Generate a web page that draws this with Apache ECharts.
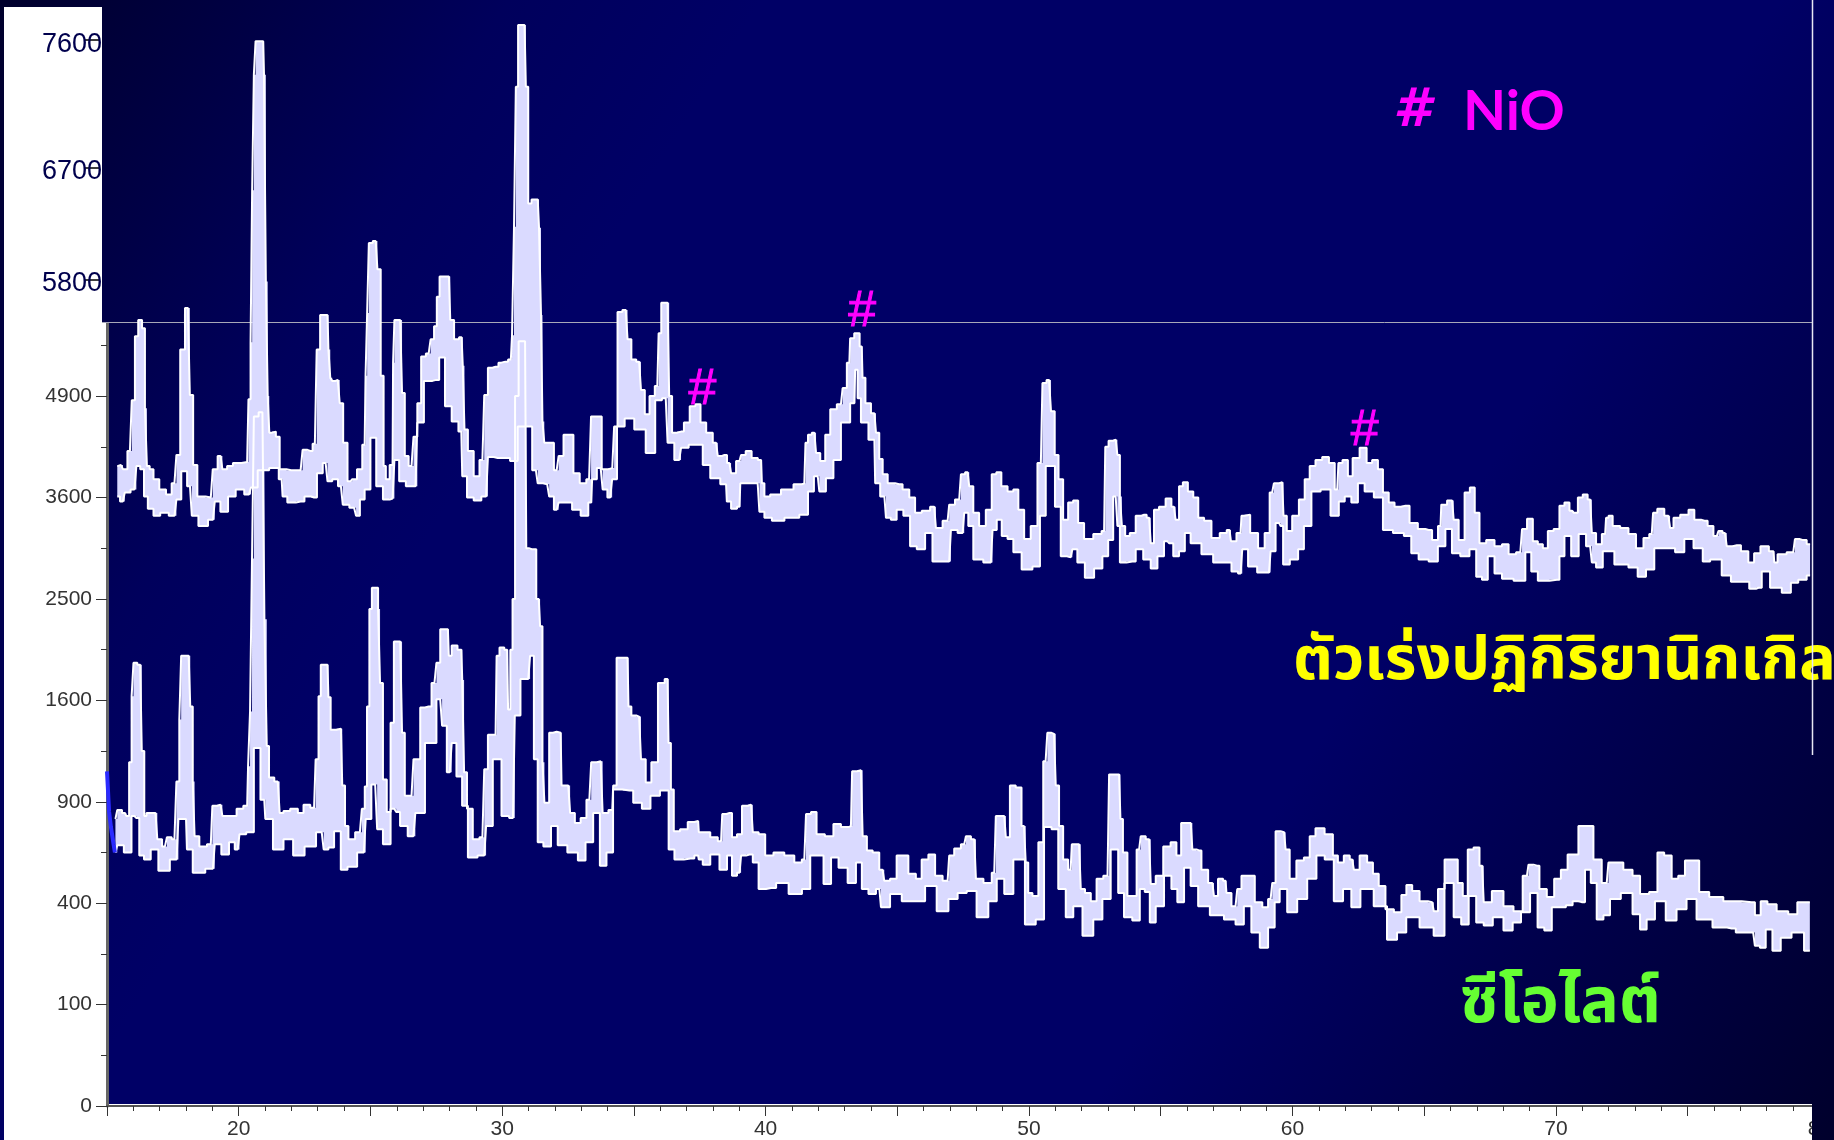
<!DOCTYPE html>
<html>
<head>
<meta charset="utf-8">
<title>XRD</title>
<script src="https://cdn.jsdelivr.net/npm/echarts@6/dist/echarts.min.js"></script>
<style>
html, body { margin: 0; padding: 0; background: #000066; }
#chart { width: 1834px; height: 1140px; }
</style>
</head>
<body>
<div id="chart"></div>
<script>
"use strict";
// intensity is stored on the instrument's square root scale, so 70 reads as 4900
const nickelUpper = [[15.39,63.1],[15.53,63.2],[15.68,62.8],[15.87,64.6],[16.01,69.6],[16.11,75.9],[16.26,77.5],[16.40,76.7],[16.48,68.8],[16.55,63.1],[16.69,62.8],[16.84,61.8],[17.13,60.8],[17.35,60.3],[17.56,61.4],[17.71,64.2],[17.85,74.6],[18.07,78.7],[18.22,70.1],[18.32,63.2],[18.54,60.1],[18.94,60],[19.09,62.8],[19.31,64.1],[19.45,62.8],[19.67,63.1],[19.89,63.4],[20.32,63.5],[20.42,69.7],[20.48,75.3],[20.54,90.3],[20.61,101.7],[20.67,105],[20.93,105],[20.99,101.7],[21.07,81.3],[21.13,70],[21.19,66.4],[21.34,66.5],[21.48,66],[21.63,62.8],[21.99,62.7],[22.35,62.7],[22.5,64.7],[22.72,64.6],[22.89,65.3],[23.03,74.6],[23.15,78],[23.37,78],[23.44,74.6],[23.51,71.8],[23.59,71.5],[23.76,71.6],[23.91,69.3],[24.02,65.4],[24.24,61.6],[24.38,61.8],[24.6,62.8],[24.78,65.2],[24.85,72],[24.9,78.2],[24.98,85.1],[25.2,85.3],[25.33,82.5],[25.45,72],[25.55,63.1],[25.62,61.8],[25.84,63.2],[25.88,73.3],[25.94,77.5],[26.13,77.5],[26.27,70.3],[26.34,64.1],[26.56,63.1],[26.71,66],[26.85,69.3],[27,73.9],[27.21,74.2],[27.36,75.6],[27.47,76.9],[27.57,79.8],[27.68,81.8],[27.98,81.8],[28.08,77.5],[28.27,75.6],[28.46,75.8],[28.55,73],[28.59,66.7],[28.81,64.6],[29.03,62.1],[29.25,63.7],[29.39,70.1],[29.53,72.8],[29.75,72.9],[29.97,73.3],[30.12,73.4],[30.33,73.6],[30.42,76],[30.48,86.7],[30.56,100.5],[30.65,106.6],[30.85,106.6],[30.95,100.5],[31.03,89],[31.2,89.4],[31.35,89.4],[31.45,86.6],[31.5,78],[31.56,67.5],[31.64,65.4],[31.86,65.4],[32.07,62.7],[32.22,64.1],[32.44,66.2],[32.61,66.2],[32.8,62.4],[33.09,61.4],[33.3,61.8],[33.45,68],[33.67,68],[33.89,62.8],[34.18,62.9],[34.32,67],[34.44,78.3],[34.69,78.5],[34.83,75.6],[34.98,73.6],[35.2,73.4],[35.34,70.6],[35.49,68.2],[35.7,70],[35.89,71],[35.99,76.2],[36.09,79.2],[36.28,79.2],[36.4,70],[36.5,66.4],[36.79,66.5],[37.01,67.4],[37.23,69],[37.44,69.2],[37.62,67.4],[37.87,66.4],[38.12,65.4],[38.25,64.1],[38.44,64.2],[38.63,63.4],[38.75,62.4],[39.01,63.6],[39.13,64.2],[39.36,64.6],[39.58,63.9],[39.83,63.7],[39.89,61.4],[40.02,60.1],[40.33,60.3],[40.84,60.8],[41.28,61.3],[41.47,61.4],[41.56,65.4],[41.66,66.2],[41.85,66.4],[41.98,64.4],[42.17,63.6],[42.36,66.2],[42.55,68.7],[42.86,69.2],[42.99,70.8],[43.18,73.3],[43.24,75.7],[43.49,76.2],[43.65,74.9],[43.71,71.8],[43.87,69.3],[44.13,68.3],[44.25,66.4],[44.38,63.8],[44.51,62.3],[44.76,61.4],[45.07,61.3],[45.33,60.8],[45.58,60],[45.77,58.5],[46.09,58.7],[46.4,59.1],[46.53,57],[46.91,57.7],[47.03,59.3],[47.35,59.8],[47.48,62.3],[47.67,62.5],[47.79,61.1],[47.98,58.5],[48.23,57.2],[48.49,58.8],[48.68,62.3],[48.84,62.5],[49.06,61.1],[49.31,60.6],[49.5,60.8],[49.69,58.8],[49.94,55.9],[50.19,57.2],[50.45,63.4],[50.57,71.3],[50.76,71.6],[50.91,68.5],[51.04,64.2],[51.2,61.8],[51.39,57.8],[51.58,59.5],[51.77,59.7],[51.96,57.5],[52.22,55.9],[52.66,56.4],[52.85,56.7],[52.94,65],[53.1,65.6],[53.29,65.7],[53.42,64.2],[53.48,60.1],[53.57,57.2],[53.73,56.2],[53.92,56.5],[54.18,58.2],[54.37,58.3],[54.56,58],[54.68,55.5],[54.81,58.8],[55.06,59.1],[55.31,59.9],[55.5,59.1],[55.63,57.8],[55.76,61.1],[55.92,61.5],[56.14,60.6],[56.33,60],[56.52,58],[56.77,57.7],[57.08,56],[57.4,56.5],[57.61,56.8],[57.72,55.7],[58.03,56.5],[58.1,58.2],[58.25,58.3],[58.54,56.5],[58.85,55],[59.04,56.5],[59.23,60.5],[59.36,61.4],[59.61,61.5],[59.71,58.2],[59.86,56.7],[60.12,58.2],[60.37,59.8],[60.56,61.8],[60.75,63.1],[61,63.7],[61.26,64],[61.51,63.4],[61.7,60.8],[61.79,63.4],[62.01,63.7],[62.2,62.1],[62.37,63.9],[62.73,64.9],[62.9,63.4],[63.15,63.7],[63.34,62.8],[63.53,60.5],[63.78,59.5],[63.97,59.1],[64.29,59.2],[64.6,57.5],[64.92,56.9],[65.17,56.8],[65.43,55.8],[65.62,57.2],[65.68,59.3],[66.06,59.7],[66.18,57.8],[66.44,55.8],[66.63,60.5],[66.84,61],[67,58.5],[67.2,55.5],[67.51,55.8],[67.83,55.2],[68.08,55.4],[68.33,54.4],[68.65,54.6],[68.78,56.9],[69.03,57.9],[69.22,55.7],[69.41,55.4],[69.6,55],[69.79,56.7],[70.04,56.9],[70.23,59.2],[70.42,59.5],[70.61,58.7],[70.74,58.5],[70.93,60],[71.11,60.3],[71.3,59.8],[71.43,56.5],[71.62,55.4],[71.87,56.4],[71.94,58],[72.06,58.2],[72.25,57.2],[72.63,57],[72.88,56.4],[73.2,55],[73.45,56],[73.64,56.4],[73.74,58.5],[73.96,58.9],[74.27,58.2],[74.4,57],[74.53,58],[74.91,58.3],[75.16,58.8],[75.35,57.8],[75.67,57.7],[75.85,57.2],[76.11,56.2],[76.23,56.7],[76.42,56.5],[76.55,55.2],[76.87,55.3],[77.18,54.7],[77.43,53.6],[77.62,54.5],[77.91,55.2],[78.26,54.7],[78.32,53.6],[78.51,54.4],[79.01,54.6],[79.14,55.9],[79.39,55.8],[79.65,55.4]];
const nickelLower = [[15.39,60.1],[15.6,59.6],[15.75,60.5],[16.04,60.8],[16.19,63.1],[16.33,62.8],[16.48,60.1],[16.62,58.9],[16.91,58.2],[17.13,58.5],[17.56,58.2],[17.71,59.8],[17.93,62.6],[18.15,61.1],[18.29,58.2],[18.65,57.2],[19.02,57.8],[19.16,59.6],[19.45,58.6],[19.74,60.1],[20.03,60.8],[20.39,60.3],[20.54,61],[20.9,62.7],[21.41,62.9],[21.63,61.8],[21.7,60.1],[21.99,59.5],[22.35,59.6],[22.64,60.1],[22.86,60],[23.08,62.4],[23.3,63.4],[23.44,61.6],[23.66,61.8],[23.88,61.1],[24.02,59.3],[24.38,59],[24.53,58.2],[24.67,59.8],[24.89,60.8],[25.11,65.9],[25.33,61.1],[25.62,59.8],[25.84,59.9],[25.98,63.7],[26.2,61.6],[26.49,61.1],[26.71,61.1],[26.85,67.4],[27.21,71.5],[27.5,71.6],[27.72,73.8],[27.94,69],[28.23,67.5],[28.45,66.5],[28.52,62.1],[28.81,60],[29.03,59.7],[29.39,60.1],[29.53,64],[29.83,63.9],[30.12,63.9],[30.48,63.6],[30.7,67],[31,67],[31.28,62.7],[31.42,61.4],[31.71,61.3],[31.86,60.1],[32.07,58.8],[32.22,59.5],[32.51,59.5],[32.8,58.8],[33.16,58.2],[33.38,59.5],[33.45,61.8],[33.74,62.9],[33.89,60.8],[34.1,60],[34.25,61.8],[34.47,67],[34.83,67.8],[35.2,66.7],[35.7,64.4],[35.92,69.6],[36.21,69.8],[36.35,65.4],[36.72,63.7],[36.86,64.9],[37.3,65.2],[37.49,65.2],[37.74,63.2],[38.06,61.9],[38.5,61.3],[38.56,59.6],[38.82,58.9],[39.01,59.1],[39.07,61.4],[39.7,61.4],[39.83,58.6],[40.08,58],[40.4,57.7],[41.03,58],[41.53,58.3],[41.69,60.6],[41.98,62.1],[42.1,60.6],[42.48,61.9],[42.67,63.7],[43.05,67.4],[43.37,69.3],[43.43,72.6],[43.56,69.8],[43.68,67.4],[44.13,65.7],[44.19,61.4],[44.51,60.1],[44.63,58],[44.88,57.8],[45.07,58.8],[45.39,58.2],[45.58,55.2],[45.9,54.9],[46.21,56.5],[46.46,53.7],[46.97,53.7],[47.1,56.8],[47.48,56.5],[47.6,58.5],[47.79,57.2],[47.98,53.9],[48.55,53.6],[48.68,56.8],[48.87,57.8],[49.06,56.2],[49.31,55.9],[49.5,54.6],[49.94,52.9],[50.32,53.2],[50.51,58.2],[50.76,63.1],[50.89,63.1],[51.08,59.1],[51.33,54.2],[51.58,54.1],[51.71,54.9],[51.96,53.6],[52.28,52.1],[52.66,53],[52.91,54.2],[53.1,55.8],[53.29,60.1],[53.42,57.2],[53.48,53.6],[53.92,53.7],[54.18,54.9],[54.49,53.9],[54.75,53],[55,54.2],[55.25,55.7],[55.38,55.5],[55.57,54.2],[55.82,54.7],[56.01,56.5],[56.26,55.5],[56.83,54.4],[57.15,53.6],[57.53,53.6],[57.84,52.7],[58.03,52.5],[58.16,54.9],[58.47,53.2],[58.85,52.6],[59.11,52.6],[59.23,54.7],[59.49,57.5],[59.61,57.2],[59.68,53.4],[60.12,53.9],[60.31,54.9],[60.56,57.2],[60.88,60.6],[61.26,60.8],[61.63,58.2],[61.89,59.6],[62.08,60.1],[62.39,59.5],[62.58,61.4],[62.9,60.6],[63.28,60],[63.59,56.8],[64.04,56.5],[64.42,56.2],[64.6,54.5],[64.98,53.9],[65.36,53.7],[65.68,55.2],[65.93,56.9],[66.18,54.5],[66.56,54.2],[66.88,54.9],[67.07,52.2],[67.32,51.9],[67.51,54.2],[67.83,52.5],[68.08,52],[68.71,51.8],[68.97,54.6],[69.16,52.7],[69.47,51.8],[70.04,51.9],[70.23,54.2],[70.42,56.2],[70.74,54.2],[70.99,56.4],[71.3,55.2],[71.43,53.6],[71.62,53.1],[71.94,54.7],[72.5,53.4],[73.01,53.1],[73.2,52.2],[73.64,52.9],[73.83,55],[74.27,55],[74.78,54.6],[74.97,55.9],[75.48,55],[75.67,53.7],[76.04,53.9],[76.55,52.3],[76.74,51.7],[77.18,51.7],[77.5,51],[77.69,51.1],[77.94,52.7],[78.32,51.1],[78.83,50.6],[79.01,51.6],[79.39,51.9],[79.65,52.3]];
const zeoliteUpper = [[15.32,28.3],[15.46,29.2],[15.68,28.9],[15.78,28.6],[15.9,33.9],[15.97,40.4],[16.04,43.7],[16.26,43.5],[16.38,35],[16.45,28.6],[16.55,28.9],[16.84,28.9],[16.98,26.3],[17.2,25.6],[17.35,26.5],[17.56,26.3],[17.71,32],[17.78,38.1],[17.85,44.4],[18.1,44.4],[18.22,39.4],[18.29,32],[18.36,26.6],[18.65,25.6],[18.94,25.8],[19.06,29.6],[19.31,29.7],[19.45,28.6],[19.81,28.6],[20.03,29.3],[20.32,29.6],[20.39,33.5],[20.47,38.9],[20.54,54],[20.61,68],[20.9,68.4],[21.05,48],[21.08,35.5],[21.22,32.4],[21.48,32],[21.63,28.9],[21.77,29.1],[22.14,29.3],[22.35,28.9],[22.57,29.7],[22.86,29.4],[22.98,34.2],[23.08,40.4],[23.15,43.5],[23.37,43.5],[23.44,40.3],[23.54,37.1],[23.88,37.2],[23.98,31.6],[24.09,27.6],[24.24,26.3],[24.6,27],[24.75,29.3],[24.82,31.5],[24.92,39.4],[25,49],[25.11,51.1],[25.25,51.1],[25.33,49],[25.4,41.7],[25.55,32.2],[25.69,29],[25.84,37.8],[25.94,45.8],[26.13,45.8],[26.27,36.8],[26.34,30.6],[26.56,30.6],[26.71,34.2],[27.07,39.3],[27.21,39.4],[27.43,41.7],[27.58,43.7],[27.72,47],[27.94,47],[28.01,44.4],[28.16,45.4],[28.45,45],[28.52,42],[28.59,32.9],[28.74,29.3],[29.03,26.3],[29.25,26.5],[29.39,33.2],[29.53,36.6],[29.75,36.6],[29.83,44.4],[29.97,45.2],[30.19,45],[30.26,39.1],[30.36,45],[30.43,50],[30.55,70],[30.7,75.4],[30.87,75.4],[30.96,55],[31.06,54.9],[31.2,54.9],[31.39,50],[31.49,47.3],[31.57,33.9],[31.64,29.9],[31.93,36.8],[32.07,36.9],[32.22,36.8],[32.29,31.6],[32.51,31.6],[32.65,28.9],[32.87,27.9],[33.09,28.4],[33.31,30.2],[33.45,33.9],[33.74,34],[33.89,28.9],[34.18,29.2],[34.25,31.6],[34.44,44.2],[34.76,44.2],[34.83,39.4],[34.98,38.5],[35.2,38.4],[35.34,34.2],[35.56,31.9],[35.77,33.9],[36.06,41.7],[36.28,42.1],[36.35,35.8],[36.46,31.2],[36.57,27.1],[36.94,27.3],[37.15,28],[37.44,28.1],[37.49,27],[37.74,27],[38.06,26.5],[38.31,26.1],[38.4,28.8],[38.63,28.9],[38.82,26.5],[39.01,26.8],[39.2,29.6],[39.45,29.7],[39.58,27],[39.89,26.8],[40.08,24.7],[40.52,25],[40.9,24.7],[41.28,24],[41.47,24.3],[41.6,28.8],[41.85,29],[42.02,26.8],[42.48,26.6],[42.67,27.8],[43.05,27.5],[43.24,27.6],[43.33,33],[43.62,33.1],[43.75,26.6],[43.94,25.2],[44.19,25],[44.44,23.3],[44.57,22.2],[44.88,22.4],[45.07,24.7],[45.26,24.7],[45.58,22.9],[45.83,22.4],[46.02,24.3],[46.34,24.8],[46.53,22.7],[46.91,22.2],[47.03,24.7],[47.29,25.4],[47.54,25.8],[47.67,26.6],[47.92,26.3],[48.05,22.4],[48.49,22],[48.68,23],[48.8,28.6],[49.06,28.6],[49.18,26.5],[49.37,31.6],[49.62,31.4],[49.81,27.6],[49.94,24],[50,21],[50.26,20.7],[50.45,26],[50.63,34],[50.76,36.8],[50.95,36.7],[51.08,31.6],[51.2,27.6],[51.39,24.3],[51.58,23.3],[51.67,25.8],[51.9,25.8],[52.03,21.4],[52.22,21],[52.47,20.2],[52.66,22.4],[52.98,22.7],[53.1,32.7],[53.42,32.7],[53.52,28.3],[53.61,25],[53.86,20.7],[53.99,20.7],[54.18,25.3],[54.3,26.6],[54.56,26.3],[54.68,21.9],[54.94,22.7],[55.25,25.6],[55.5,26],[55.69,24.7],[55.86,27.9],[56.14,27.9],[56.26,25.3],[56.45,25.2],[56.64,23.3],[56.96,22],[57.08,20.7],[57.27,22.4],[57.46,22.2],[57.53,21],[57.84,19.7],[57.97,21.4],[58.16,22.7],[58.41,22.7],[58.73,20.1],[58.98,19.6],[59.17,20.4],[59.3,22],[59.42,27.1],[59.68,27],[59.8,25.3],[59.99,22.4],[60.31,24.2],[60.56,24.5],[60.75,26.6],[61,27.4],[61.44,26.8],[61.63,24.7],[61.82,24],[62.08,24.7],[62.27,24.3],[62.39,23.3],[62.71,24.7],[62.96,24],[63.15,22.9],[63.4,21.7],[63.66,19.4],[64.04,19.1],[64.23,20.8],[64.42,21.8],[64.67,21.2],[64.98,20.2],[65.3,20.1],[65.43,19.2],[65.62,21.4],[65.93,24.3],[66.18,24.3],[66.37,22],[66.56,20.7],[66.75,25.3],[67,25.5],[67.2,23.7],[67.32,20.1],[67.82,21.2],[68.2,19.7],[68.58,19.2],[68.9,22.7],[69.02,23.8],[69.28,23.7],[69.47,21.4],[69.84,20.6],[70.03,22.4],[70.35,23.3],[70.54,24.8],[70.73,24.8],[70.98,27.6],[71.3,27.6],[71.55,24.3],[71.93,22],[72.06,24],[72.37,24],[72.75,23.3],[73.07,22.7],[73.32,20.9],[73.76,21.1],[73.95,25],[74.27,24.7],[74.52,22.4],[74.77,22.7],[75.03,24.2],[75.28,24.2],[75.6,21.1],[76.04,20.6],[76.67,20.2],[77.43,20.1],[77.68,18.8],[77.87,20.2],[78.19,19.9],[78.57,19.2],[79.07,18.9],[79.26,20.1],[79.64,20.1]];
const zeoliteLower = [[15.32,25],[15.46,25.7],[15.82,25],[16.04,28.6],[16.19,28.4],[16.26,24.7],[16.55,24.3],[16.77,25.3],[17.13,23.2],[17.64,24.3],[17.78,28.3],[18,28.3],[18.07,25.3],[18.44,23],[19.02,23.4],[19.16,25.8],[19.52,24.8],[19.74,26],[19.96,25.3],[20.1,26.8],[20.47,27],[20.68,35.3],[20.97,30.2],[21.05,28.3],[21.55,25.3],[21.85,26.3],[22.28,24.7],[22.72,25.6],[23.15,27],[23.3,25.3],[23.51,25.5],[23.73,27.1],[24.02,23.3],[24.24,23.6],[24.75,25],[24.89,28.3],[25.18,31.7],[25.33,27.3],[25.62,25.8],[25.91,29.3],[26.05,29],[26.2,27.6],[26.63,26.6],[26.78,28.9],[27.36,35.8],[27.65,40.1],[27.79,37.5],[28.01,32.9],[28.16,35.8],[28.37,32.5],[28.59,29.6],[28.81,24.5],[29.32,24.7],[29.46,27.6],[29.83,34.2],[30.12,28.6],[30.41,28.4],[30.55,38.5],[30.84,42.1],[30.99,42.1],[31.13,44.4],[31.28,34.2],[31.42,26],[31.71,25.6],[32,27.6],[32.22,25.7],[32.73,25],[33.02,24.2],[33.31,26],[33.6,28.9],[33.82,23.7],[34.1,25],[34.32,31.2],[34.83,31.1],[35.12,29.9],[35.49,29.3],[35.77,30.6],[36.21,31.1],[36.43,25.3],[36.65,24.3],[37.15,24.4],[37.44,24.7],[37.49,24.3],[37.74,23.8],[38.06,24.8],[38.44,23.3],[38.63,24.7],[38.82,22.7],[39.01,23],[39.13,24.7],[39.39,24.8],[39.64,24],[39.83,21.4],[40.21,21.5],[40.59,22],[41.16,20.9],[41.6,21.4],[41.79,24.7],[42.04,24.7],[42.36,21.9],[42.61,24.5],[42.93,23.5],[43.3,22],[43.56,24],[43.75,21.4],[44.06,20.9],[44.32,21.4],[44.44,19.6],[45.01,20.9],[45.33,20.2],[45.9,20.2],[46.21,21.7],[46.78,19.2],[47.1,20.4],[47.48,21],[47.79,21.2],[48.23,18.6],[48.68,20.2],[48.87,22.4],[49.25,20.9],[49.56,24.3],[50.13,17.9],[50.38,18.4],[50.76,27.5],[50.95,27.3],[51.27,21.4],[51.52,18.6],[51.84,19.7],[52.22,16.8],[52.66,18.4],[52.91,20.4],[53.29,25.3],[53.48,21],[53.73,18.6],[54.11,18.3],[54.3,21.4],[54.49,21.1],[54.68,18.1],[54.94,19.7],[55.31,22.7],[55.5,21.4],[55.76,20.1],[56.01,23.5],[56.26,21.7],[56.58,19.7],[57.15,18.8],[57.65,18.4],[58.03,17.9],[58.28,19.7],[58.6,17.1],[58.92,15.6],[59.23,17.6],[59.42,20.1],[59.61,21.4],[59.99,19.1],[60.37,20.4],[60.75,22.4],[61.07,24.7],[61.38,24.3],[61.76,20.2],[62.08,21.4],[62.39,19.6],[62.77,21.4],[63.4,19.7],[63.78,16.4],[64.16,17.1],[64.48,18.6],[65.17,17.6],[65.55,16.8],[65.99,22],[66.25,18.6],[66.56,17.9],[66.82,20.7],[67.13,18.1],[67.39,17.8],[67.82,18.6],[68.2,17.3],[68.52,18.1],[68.83,19.1],[69.21,21],[69.4,17.6],[69.72,17.3],[69.97,19.6],[70.22,19.6],[70.54,19.8],[70.73,20.2],[70.98,20.1],[71.23,23.3],[71.42,22],[71.68,18.4],[71.93,18.8],[72.18,20.4],[72.75,21],[73.07,18.9],[73.32,17.4],[73.57,18.4],[73.95,20.2],[74.39,18.3],[74.77,19.4],[75.15,20.4],[75.53,18.4],[76.36,17.6],[76.67,17.5],[76.99,17.1],[77.49,17.1],[77.62,15.8],[77.87,15.6],[78.06,17.4],[78.38,15.3],[78.69,16.6],[79.2,17.1],[79.64,15.3]];
// the short blue trace where the zeolite scan starts
const scanStart = [[15,33],[15.08,29],[15.15,27.5],[15.25,25.8],[15.3,25]];
const nioPeaks = [[37.6,70.6],[43.67,78.3],[62.74,66.5]];

const yTickRoots = [0, 10, 20, 30, 40, 50, 60, 70];
const yTickLabels = ["0", "100", "400", "900", "1600", "2500", "3600", "4900"];
const yMinorRoots = [5, 15, 25, 35, 45, 55, 65, 75];
const pastedRoots = [81.5, 92.5, 105.1];
// the pasted text sits a little under its own tick
const pastedLabelRoots = [81.1, 92.1, 104.7];
const pastedLabels = ["5800", "6700", "7600"];

const backdropStops = [
    {offset: 0, color: "#00002c"},
    {offset: 0.2, color: "#00005c"},
    {offset: 0.3, color: "#000066"},
    {offset: 0.7, color: "#000066"},
    {offset: 1, color: "#00002c"}
];
const THAI = "'Noto Sans', 'Noto Sans Thai', 'Liberation Sans', 'DejaVu Sans', sans-serif";

const chart = echarts.init(document.getElementById("chart"));
const backdrop = () => new echarts.graphic.LinearGradient(0, 0, 1834, 1140, backdropStops, true);

// lavender body of a trace, between its two stepped envelopes
function bandSeries(upper, lower) {
    const stepped = (pts) => {
        const out = [];
        pts.forEach((p, i) => {
            if (i > 0) {
                const mid = (pts[i - 1][0] + p[0]) / 2;
                out.push([mid, pts[i - 1][1]], [mid, p[1]]);
            } else {
                out.push(p);
            }
        });
        out.push(pts[pts.length - 1]);
        return out;
    };
    return {
        type: "custom",
        silent: true,
        z: 3,
        data: [0],
        renderItem: (params, api) => ({
            type: "polygon",
            shape: {
                points: stepped(upper).concat(stepped(lower).reverse()).map((p) => api.coord(p))
            },
            style: {fill: "#dadaff"}
        })
    };
}

function edgeSeries(name, pts) {
    return {
        name: name,
        type: "line",
        data: pts,
        step: "middle",
        symbol: "none",
        silent: true,
        z: 4,
        lineStyle: {color: "#ffffff", width: 2}
    };
}

const yCommon = {
    type: "value",
    position: "left",
    min: 0,
    max: 108.37,
    splitLine: {show: false}
};

chart.setOption({
    animation: false,
    backgroundColor: backdrop(),
    grid: {left: 107, right: 13, top: 7, bottom: 33, containLabel: false},
    xAxis: {
        type: "value",
        min: 15,
        max: 80,
        interval: 5,
        splitLine: {show: false},
        axisLine: {onZero: false, lineStyle: {color: "#555555", width: 2}},
        axisTick: {length: 10, lineStyle: {color: "#333333"}},
        minorTick: {show: true, splitNumber: 5, length: 5, lineStyle: {color: "#333333"}},
        axisLabel: {
            margin: 13,
            fontFamily: "Liberation Sans",
            fontSize: 21,
            color: "#333333",
            showMinLabel: false,
            formatter: (v) => (v % 10 === 0 ? String(v) : "")
        }
    },
    yAxis: [
        Object.assign({}, yCommon, {
            axisLine: {show: true, onZero: false, lineStyle: {color: "#666666", width: 3}},
            axisTick: {show: true, length: 11, customValues: yTickRoots, lineStyle: {color: "#333333"}},
            axisLabel: {
                margin: 15,
                customValues: yTickRoots,
                fontFamily: "Liberation Sans",
                fontSize: 21,
                color: "#333333",
                formatter: (v) => yTickLabels[yTickRoots.indexOf(v)]
            }
        }),
        Object.assign({}, yCommon, {
            axisLine: {show: false},
            axisTick: {show: true, length: 6, customValues: yMinorRoots, lineStyle: {color: "#333333"}},
            axisLabel: {show: false}
        }),
        // the labels pasted over the top of the scan
        Object.assign({}, yCommon, {
            offset: 7,
            axisLine: {show: false},
            axisTick: {show: true, length: 15, customValues: pastedRoots, lineStyle: {color: "#000000", width: 1.5}},
            axisLabel: {
                margin: -2,
                customValues: pastedLabelRoots,
                fontFamily: "Liberation Sans",
                fontSize: 27,
                color: "#00004d",
                formatter: (v) => pastedLabels[pastedLabelRoots.indexOf(v)]
            }
        })
    ],
    series: [
        bandSeries(nickelUpper, nickelLower),
        edgeSeries("nickel lower", nickelLower),
        edgeSeries("nickel upper", nickelUpper),
        bandSeries(zeoliteUpper, zeoliteLower),
        edgeSeries("zeolite lower", zeoliteLower),
        edgeSeries("zeolite upper", zeoliteUpper),
        {
            name: "start",
            type: "line",
            data: scanStart,
            symbol: "none",
            silent: true,
            z: 5,
            lineStyle: {color: "#2a2aff", width: 4}
        },
        {
            name: "NiO",
            type: "scatter",
            data: nioPeaks,
            symbolSize: 0,
            silent: true,
            z: 6,
            itemStyle: {opacity: 1},
            label: {
                show: true,
                position: "inside",
                formatter: "#",
                opacity: 1,
                color: "#ff00ff",
                textBorderColor: "#ff00ff",
                textBorderWidth: 1,
                fontFamily: "Liberation Sans",
                fontSize: 50
            }
        }
    ],
    graphic: [
        // white card behind the axis labels
        {type: "rect", z: -1, shape: {x: 4, y: 7, width: 103, height: 1133}, style: {fill: "#ffffff"}},
        {type: "rect", z: -1, shape: {x: 4, y: 1104, width: 1810, height: 36}, style: {fill: "#ffffff"}},
        {type: "rect", z: 1, shape: {x: 102, y: 0, width: 8, height: 322}, style: {fill: backdrop()}},
        {type: "line", z: 1, shape: {x1: 102, y1: 322.5, x2: 1812, y2: 322.5}, style: {stroke: "#a8a8b8", lineWidth: 1}},
        {type: "rect", z: 20, shape: {x: 1812, y: 0, width: 22, height: 1140}, style: {fill: backdrop()}},
        {type: "text", z: 21, x: 1393, y: 112, style: {text: "#", fill: "#ff00ff", font: "italic bold 54px 'DejaVu Sans', sans-serif", textVerticalAlign: "middle"}},
        {type: "text", z: 21, x: 1463, y: 112, style: {text: "NiO", fill: "#ff00ff", font: "bold 56px Lato, 'Open Sans', sans-serif", textVerticalAlign: "middle"}},
        {type: "text", z: 21, x: 1293, y: 662, style: {text: "ตัวเร่งปฏิกิริยานิกเกิล", fill: "#ffff00", font: "bold 61px " + THAI, textVerticalAlign: "middle"}},
        {type: "text", z: 21, x: 1460, y: 1004, style: {text: "ซีโอไลต์", fill: "#66ff33", font: "bold 64px " + THAI, textVerticalAlign: "middle"}},
        {type: "line", z: 22, shape: {x1: 1812.5, y1: 0, x2: 1812.5, y2: 755}, style: {stroke: "#e8e8f4", lineWidth: 1.5}}
    ]
});
</script>
</body>
</html>
